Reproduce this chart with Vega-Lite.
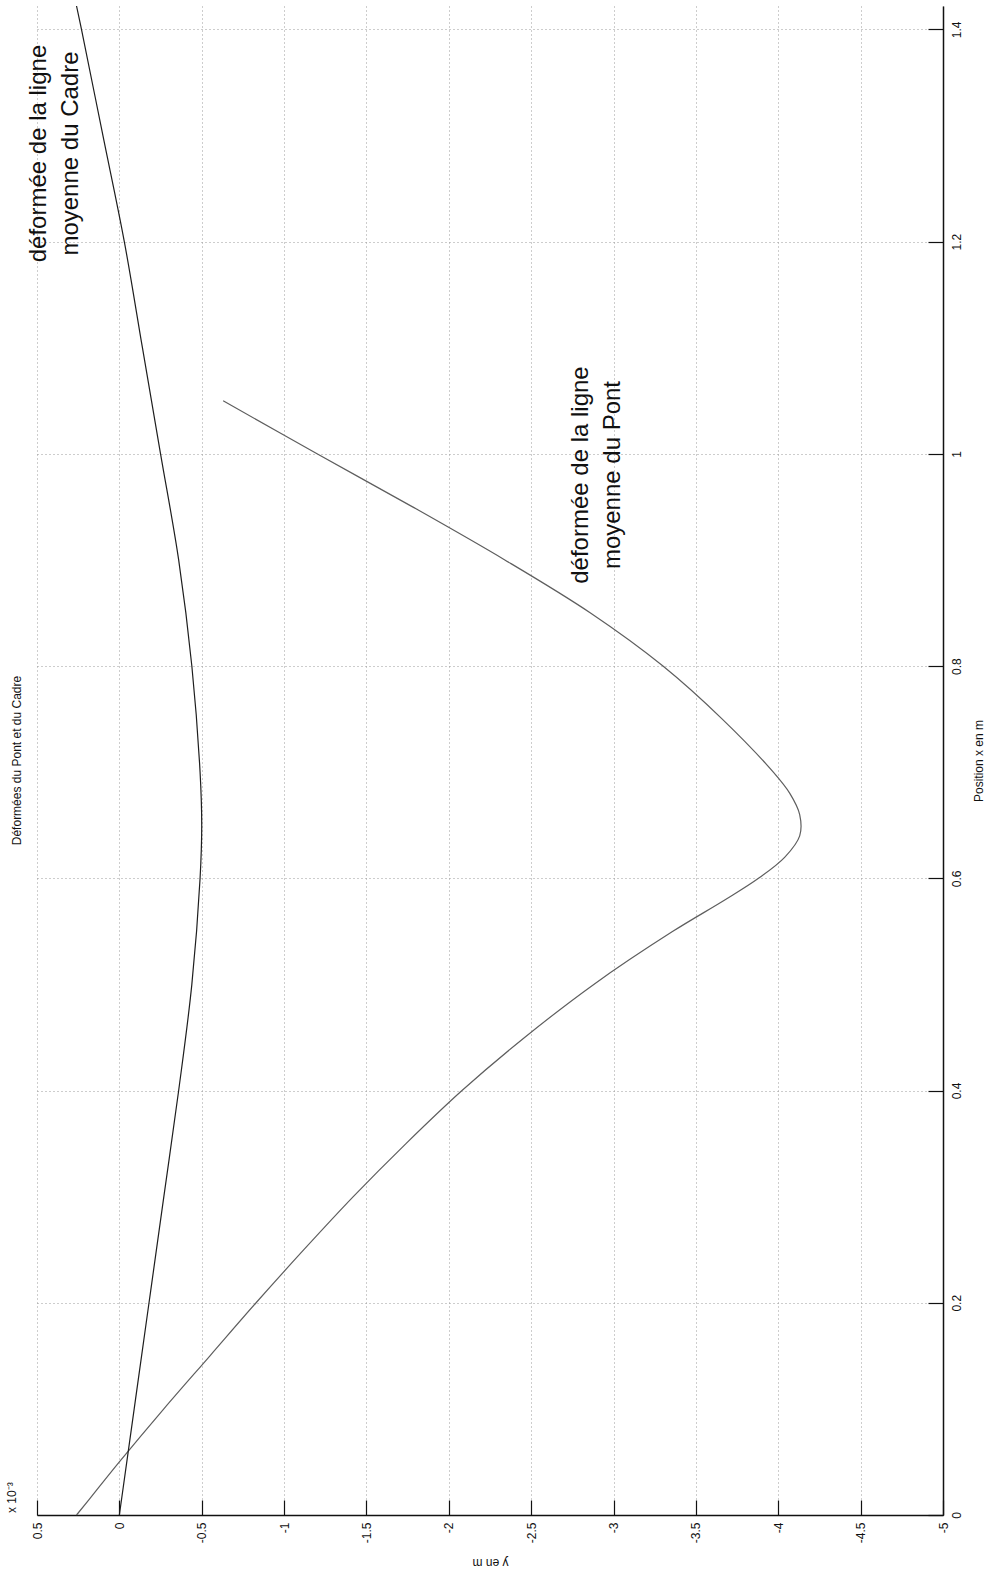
{
  "$schema": "https://vega.github.io/schema/vega-lite/v6.json",
  "width": 906,
  "height": 1509,
  "autosize": {"type": "none"},
  "padding": {"left": 37, "top": 6, "right": 45, "bottom": 63},
  "background": "#ffffff",
  "config": {
    "view": {"stroke": null},
    "font": "Liberation Sans"
  },
  "datasets": {
    "curves": [
      {"series": "Pont", "p": 0.0, "v": 0.26},
      {"series": "Pont", "p": 0.025, "v": 0.13},
      {"series": "Pont", "p": 0.05, "v": 0.0},
      {"series": "Pont", "p": 0.1, "v": -0.27},
      {"series": "Pont", "p": 0.15, "v": -0.55},
      {"series": "Pont", "p": 0.2, "v": -0.83},
      {"series": "Pont", "p": 0.25, "v": -1.12},
      {"series": "Pont", "p": 0.3, "v": -1.42},
      {"series": "Pont", "p": 0.35, "v": -1.74},
      {"series": "Pont", "p": 0.4, "v": -2.08},
      {"series": "Pont", "p": 0.45, "v": -2.46},
      {"series": "Pont", "p": 0.5, "v": -2.88},
      {"series": "Pont", "p": 0.55, "v": -3.36},
      {"series": "Pont", "p": 0.58, "v": -3.68},
      {"series": "Pont", "p": 0.6, "v": -3.88},
      {"series": "Pont", "p": 0.62, "v": -4.04},
      {"series": "Pont", "p": 0.64, "v": -4.13},
      {"series": "Pont", "p": 0.66, "v": -4.13},
      {"series": "Pont", "p": 0.68, "v": -4.07},
      {"series": "Pont", "p": 0.7, "v": -3.97},
      {"series": "Pont", "p": 0.75, "v": -3.66},
      {"series": "Pont", "p": 0.8, "v": -3.3},
      {"series": "Pont", "p": 0.85, "v": -2.86},
      {"series": "Pont", "p": 0.9, "v": -2.34},
      {"series": "Pont", "p": 0.95, "v": -1.78},
      {"series": "Pont", "p": 1.0, "v": -1.2},
      {"series": "Pont", "p": 1.05, "v": -0.63},
      {"series": "Cadre", "p": 0.0, "v": 0.0},
      {"series": "Cadre", "p": 0.1, "v": -0.09},
      {"series": "Cadre", "p": 0.2, "v": -0.18},
      {"series": "Cadre", "p": 0.3, "v": -0.27},
      {"series": "Cadre", "p": 0.4, "v": -0.36},
      {"series": "Cadre", "p": 0.5, "v": -0.44},
      {"series": "Cadre", "p": 0.6, "v": -0.49},
      {"series": "Cadre", "p": 0.65, "v": -0.5},
      {"series": "Cadre", "p": 0.7, "v": -0.49},
      {"series": "Cadre", "p": 0.8, "v": -0.44},
      {"series": "Cadre", "p": 0.9, "v": -0.36},
      {"series": "Cadre", "p": 1.0, "v": -0.25},
      {"series": "Cadre", "p": 1.1, "v": -0.14},
      {"series": "Cadre", "p": 1.2, "v": -0.03},
      {"series": "Cadre", "p": 1.3, "v": 0.1},
      {"series": "Cadre", "p": 1.4, "v": 0.23},
      {"series": "Cadre", "p": 1.422, "v": 0.26}
    ],
    "notes": [
      {"label": "déformée de la ligne\nmoyenne du Pont", "v": -2.8, "p": 0.98},
      {"label": "déformée de la ligne\nmoyenne du Cadre", "v": 0.49, "p": 1.283}
    ]
  },
  "layer": [
    {
      "data": {"name": "curves"},
      "mark": {"type": "line", "strokeWidth": 1.2, "interpolate": "catmull-rom"},
      "encoding": {
        "x": {
          "field": "v", "type": "quantitative",
          "scale": {"domain": [-5, 0.5], "reverse": true, "nice": false, "zero": false},
          "axis": {
            "orient": "bottom",
            "title": "y en m",
            "values": [0.5, 0, -0.5, -1, -1.5, -2, -2.5, -3, -3.5, -4, -4.5, -5],
            "labelExpr": "toString(datum.value)",
            "labelAngle": 270,
            "labelAlign": "right",
            "labelBaseline": "middle",
            "labelFontSize": 12,
            "labelColor": "#111111",
            "labelPadding": 22,
            "tickSize": -15,
            "tickColor": "#111111",
            "tickWidth": 1.2,
            "domainColor": "#111111",
            "domainWidth": 1.5,
            "grid": true,
            "gridColor": "#9a9a9a",
            "gridDash": [1, 3],
            "gridWidth": 1,
            "titleAngle": 180,
            "titleFontSize": 12,
            "titleFontWeight": "normal",
            "titleColor": "#111111",
            "titleBaseline": "middle",
            "titleY": 47
          }
        },
        "y": {
          "field": "p", "type": "quantitative",
          "scale": {"domain": [0, 1.422], "nice": false, "zero": false},
          "axis": {
            "orient": "right",
            "title": "Position x en m",
            "values": [0, 0.2, 0.4, 0.6, 0.8, 1, 1.2, 1.4],
            "labelExpr": "toString(datum.value)",
            "labelAngle": 270,
            "labelAlign": "center",
            "labelBaseline": "top",
            "labelFontSize": 12,
            "labelColor": "#111111",
            "labelPadding": 23,
            "tickSize": -15,
            "tickColor": "#111111",
            "tickWidth": 1.2,
            "domainColor": "#111111",
            "domainWidth": 1.5,
            "grid": true,
            "gridColor": "#9a9a9a",
            "gridDash": [1, 3],
            "gridWidth": 1,
            "titleAngle": 270,
            "titleFontSize": 12,
            "titleFontWeight": "normal",
            "titleColor": "#111111",
            "titleBaseline": "middle",
            "titleX": 35
          }
        },
        "order": {"field": "p", "type": "quantitative"},
        "color": {
          "field": "series", "type": "nominal",
          "scale": {"domain": ["Pont", "Cadre"], "range": ["#5e5e5e", "#1e1e1e"]},
          "legend": null
        }
      }
    },
    {
      "data": {"name": "notes"},
      "mark": {"type": "text", "angle": 270, "align": "center", "baseline": "middle", "fontSize": 24, "lineBreak": "\n", "lineHeight": 32, "color": "#111111", "font": "Liberation Sans"},
      "encoding": {
        "x": {"field": "v", "type": "quantitative"},
        "y": {"field": "p", "type": "quantitative"},
        "text": {"field": "label"}
      }
    },
    {
      "data": {"values": [{"t": "Déformées du Pont et du Cadre"}]},
      "mark": {"type": "text", "angle": 270, "align": "center", "baseline": "middle", "fontSize": 12, "dy": -20, "color": "#111111"},
      "encoding": {
        "x": {"datum": 0.5, "type": "quantitative"},
        "y": {"datum": 0.711, "type": "quantitative"},
        "text": {"field": "t"}
      }
    },
    {
      "data": {"values": [{"t": "x 10⁻³"}]},
      "mark": {"type": "text", "angle": 270, "align": "left", "baseline": "middle", "fontSize": 12, "dy": -25, "dx": 2, "color": "#111111"},
      "encoding": {
        "x": {"datum": 0.5, "type": "quantitative"},
        "y": {"datum": 0, "type": "quantitative"},
        "text": {"field": "t"}
      }
    }
  ]
}
